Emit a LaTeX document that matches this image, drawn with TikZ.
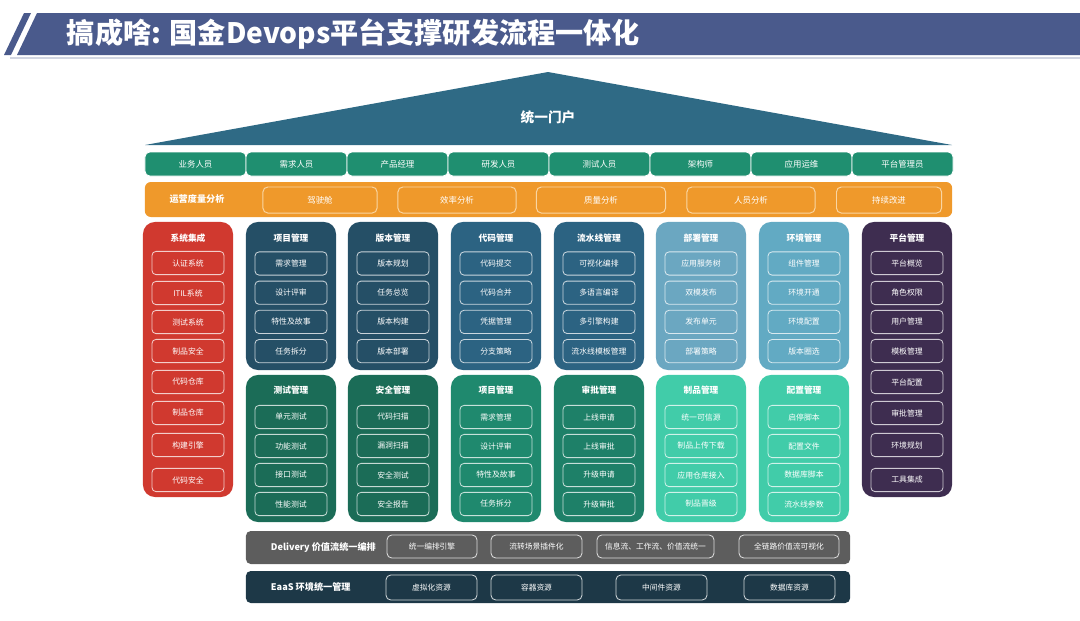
\documentclass[tikz,border=0pt]{standalone}
\usepackage{fontspec}
\setmainfont{Noto Sans CJK SC}
\usepackage{tikz}

\definecolor{barblue}{HTML}{4A5A8C}
\definecolor{roofblue}{HTML}{2F6A85}
\definecolor{rolegreen}{HTML}{1F8F70}
\definecolor{opsorange}{HTML}{EF992B}
\definecolor{opsline}{HTML}{F9D5A2}
\definecolor{sysred}{HTML}{D0392F}
\definecolor{navyA}{HTML}{254F66}
\definecolor{navyB}{HTML}{2C6382}
\definecolor{skyA}{HTML}{6BA7C1}
\definecolor{skyB}{HTML}{62AAC3}
\definecolor{plum}{HTML}{3E2D50}
\definecolor{pineA}{HTML}{1B6C57}
\definecolor{pineB}{HTML}{1F896E}
\definecolor{pineC}{HTML}{1E8068}
\definecolor{mint}{HTML}{41CCA9}
\definecolor{slate}{HTML}{5D5D5D}
\definecolor{ink}{HTML}{1D3847}

\tikzset{
  rolecell/.style={fill=rolegreen, draw=white, line width=0.6pt, rounded corners=0.12cm,
    minimum width=2.525cm, minimum height=0.6cm, inner sep=0pt, text=white,
    font=\fontsize{6}{6}\selectfont},
  opsbar/.style={fill=opsorange, rounded corners=0.15cm, minimum width=20.175cm,
    minimum height=0.875cm, inner sep=0pt},
  opshead/.style={text=white, font=\fontsize{6.5}{6.5}\selectfont\bfseries},
  opsbox/.style={draw=opsline, line width=0.7pt, rounded corners=0.12cm,
    minimum height=0.65cm, inner sep=0pt, text=white, font=\fontsize{6}{6}\selectfont},
  col/.style={rounded corners=0.3cm, minimum width=2.25cm, inner sep=0pt},
  colhead/.style={text=white, font=\fontsize{6.2}{6.2}\selectfont\bfseries},
  item/.style={draw=white, draw opacity=0.75, line width=0.6pt, rounded corners=0.1cm,
    minimum width=1.8cm, minimum height=0.58cm, inner sep=0pt, text=white,
    font=\fontsize{5.6}{5.6}\selectfont},
  band/.style={rounded corners=0.12cm, minimum width=15.1cm, inner sep=0pt},
  bandhead/.style={anchor=west, text=white, font=\fontsize{6.5}{6.5}\selectfont\bfseries},
  bandbox/.style={draw=white, draw opacity=0.8, line width=0.6pt, rounded corners=0.12cm,
    inner sep=0pt, text=white, font=\fontsize{5.5}{5.5}\selectfont}
}

\begin{document}
\begin{tikzpicture}[x=0.025cm, y=-0.025cm]
    \useasboundingbox (0,0) rectangle (1080,620);
    % Title bar
    \fill[barblue] (24,13) -- (31,13) -- (11,55) -- (4,55) -- cycle;
    \fill[barblue] (37,13) -- (1080,13) -- (1080,55) -- (17,55) -- cycle;
    \draw[barblue!25, line width=0.8pt] (10,58) -- (1080,58);
    \node[anchor=west, text=white, font=\fontsize{20}{20}\selectfont\bfseries] (title) at (62,34)
      {搞成啥: 国金Devops平台支撑研发流程一体化};

    % Roof
    \fill[roofblue] (145,145) -- (548,72) -- (952,145) -- cycle;
    \node[text=white, font=\fontsize{9.7}{9.7}\selectfont\bfseries] (portal) at (548,117) {统一门户};

    % Roles
    \foreach \role [count=\i] in {业务人员,需求人员,产品经理,研发人员,测试人员,架构师,应用运维,平台管理员}
      \node[rolecell] (role-\i) at ({145+101*(\i-0.5)},164) {\role};

    % Operations metrics
    \node[opsbar] (ops) at (548.5,199.5) {};
    \node[opshead] (ops-head) at (197,199.5) {运营度量分析};
    \foreach \lbl/\cx/\w [count=\i] in {驾驶舱/320/2.85,效率分析/457/2.95,质量分析/601/3.225,人员分析/751/3.2,持续改进/889/2.625}
      \node[opsbox, minimum width=\w cm] (ops-\i) at (\cx,200) {\lbl};

    % System integration
    \node[col, fill=sysred, minimum height=6.875cm] (sys) at (188,359.5) {};
    \node[colhead] (sys-head) at (188,238) {系统集成};
    \foreach \entry/\iy [count=\k] in {认证系统/263,ITIL系统/293,测试系统/322,制品安全/351,代码仓库/382,制品仓库/413,构建引擎/445,代码安全/480}
      \node[item] (sys-\k) at (188,\iy) {\entry};

    % Upper modules
    \foreach \cx/\clr/\head/\entries [count=\j] in {
        291/navyA/项目管理/{需求管理,设计评审,特性及故事,任务拆分},
        393/navyA/版本管理/{版本规划,任务总览,版本构建,版本部署},
        496/navyB/代码管理/{代码提交,代码合并,凭据管理,分支策略},
        599/navyB/流水线管理/{可视化编排,多语言编译,多引擎构建,流水线模板管理},
        701/skyA/部署管理/{应用服务树,双模发布,发布单元,部署策略},
        804/skyB/环境管理/{组件管理,环境开通,环境配置,版本圈选}} {
      \node[col, fill=\clr, minimum height=3.7cm] (top-\j) at (\cx,296) {};
      \node[colhead] (top-\j-head) at (\cx,238) {\head};
      \foreach \entry [count=\k] in \entries
        \node[item] (top-\j-\k) at (\cx,{263.5+29.2*(\k-1)}) {\entry};
    }

    % Lower modules
    \foreach \cx/\clr/\head/\entries [count=\j] in {
        291/pineA/测试管理/{单元测试,功能测试,接口测试,性能测试},
        393/pineA/安全管理/{代码扫描,漏洞扫描,安全测试,安全报告},
        496/pineB/项目管理/{需求管理,设计评审,特性及故事,任务拆分},
        599/pineC/审批管理/{上线申请,上线审批,升级申请,升级审批},
        701/mint/制品管理/{统一可信源,制品上传下载,应用仓库接入,制品晋级},
        804/mint/配置管理/{启停脚本,配置文件,数据库脚本,流水线参数}} {
      \node[col, fill=\clr, minimum height=3.675cm] (low-\j) at (\cx,448.5) {};
      \node[colhead] (low-\j-head) at (\cx,390) {\head};
      \foreach \entry [count=\k] in \entries
        \node[item] (low-\j-\k) at (\cx,{417+29*(\k-1)}) {\entry};
    }

    % Platform management
    \node[col, fill=plum, minimum height=6.875cm] (plat) at (907,359.5) {};
    \node[colhead] (plat-head) at (907,238) {平台管理};
    \foreach \entry/\iy [count=\k] in {平台概览/263,角色权限/293,用户管理/322,模板管理/351,平台配置/382,审批管理/413,环境规划/445,工具集成/480}
      \node[item] (plat-\k) at (907,\iy) {\entry};

    % Delivery
    \node[band, fill=slate, minimum height=0.825cm] (delivery) at (548,547.5) {};
    \node[bandhead] (delivery-head) at (266,547.5) {Delivery 价值流统一编排};
    \foreach \entry/\cx/\w [count=\k] in {统一编排引擎/432/2.25,流转场景插件化/536.5/2.275,信息流、工作流、价值流统一/655.5/2.925,全链路价值流可视化/789/2.5}
      \node[bandbox, minimum width=\w cm, minimum height=0.575cm] (delivery-\k) at (\cx,546.5) {\entry};

    % EaaS
    \node[band, fill=ink, minimum height=0.8cm] (eaas) at (548,587) {};
    \node[bandhead] (eaas-head) at (266,587) {EaaS 环境统一管理};
    \foreach \entry/\cx [count=\k] in {虚拟化资源/431.5,容器资源/536.5,中间件资源/661.5,数据库资源/789.5}
      \node[bandbox, minimum width=2.275cm, minimum height=0.625cm] (eaas-\k) at (\cx,587.5) {\entry};
  \end{tikzpicture}
\end{document}
